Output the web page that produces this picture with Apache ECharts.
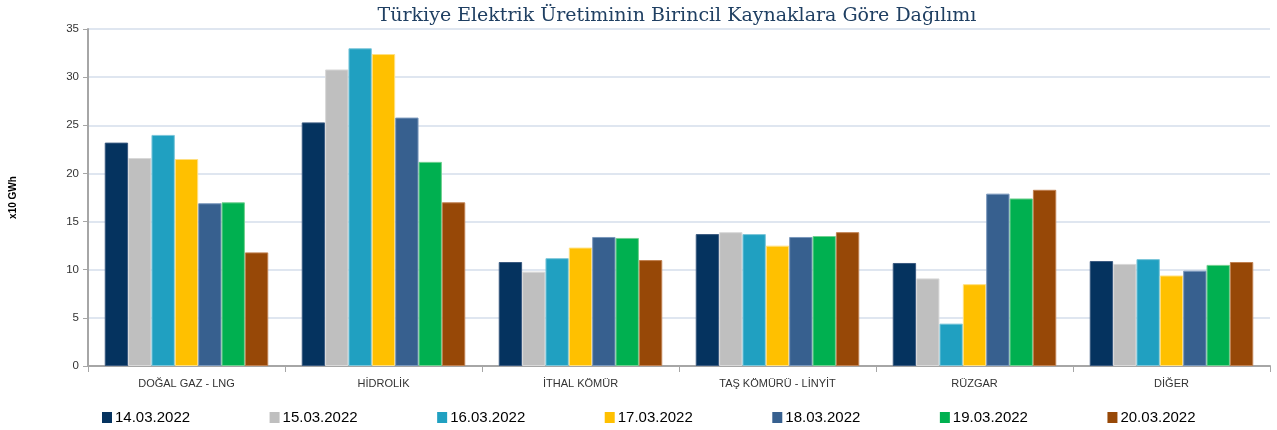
<!DOCTYPE html>
<html><head><meta charset="utf-8">
<script src="https://cdn.jsdelivr.net/npm/echarts@6/dist/echarts.min.js"></script>
<style>html,body{margin:0;padding:0;background:#fff}#c{width:1277px;height:430px}</style>
</head><body><div id="c"></div>
<script>
const categories = ['DOĞAL GAZ - LNG','HİDROLİK','İTHAL KÖMÜR','TAŞ KÖMÜRÜ - LİNYİT','RÜZGAR','DİĞER'];
const seriesNames = ['14.03.2022','15.03.2022','16.03.2022','17.03.2022','18.03.2022','19.03.2022','20.03.2022'];
const s14 = [23.2, 25.3, 10.8, 13.7, 10.7, 10.9];
const s15 = [21.6, 30.8, 9.8, 13.9, 9.1, 10.6];
const s16 = [24.0, 33.0, 11.2, 13.7, 4.4, 11.1];
const s17 = [21.5, 32.4, 12.3, 12.5, 8.5, 9.4];
const s18 = [16.9, 25.8, 13.4, 13.4, 17.9, 9.9];
const s19 = [17.0, 21.2, 13.3, 13.5, 17.4, 10.5];
const s20 = [11.8, 17.0, 11.0, 13.9, 18.3, 10.8];
const yTicks = [0,5,10,15,20,25,30,35];
const colors = ['#05335F','#BFBFBF','#20A0C1','#FFC000','#37608F','#00B050','#974807'];
const borders = ['#3A5A80','#D9D9D9','#7CC6DA','#FFE080','#7A98BC','#70D090','#C08050'];
const allData = [s14,s15,s16,s17,s18,s19,s20];
const chart = echarts.init(document.getElementById('c'));
chart.setOption({
  animation:false,
  title:{text:'Türkiye Elektrik Üretiminin Birincil Kaynaklara Göre Dağılımı',left:672,textAlign:'center',top:2,
    textStyle:{fontFamily:'DejaVu Serif',fontWeight:'normal',fontSize:19,color:'#1F3F62'}},
  grid:{left:86,right:7,top:29,bottom:64},
  legend:{top:405,left:97,width:1180,itemGap:79.5,itemWidth:10,itemHeight:11,icon:'rect',
    itemStyle:{borderWidth:0},
    textStyle:{fontFamily:'Liberation Sans',fontSize:15,color:'#000',padding:[0,0,0,-2]},
    data:seriesNames},
  xAxis:{type:'category',data:categories,
    axisLine:{lineStyle:{color:'#A6A6A6',width:2}},
    axisTick:{show:true,length:6,lineStyle:{color:'#A6A6A6',width:1}},
    axisLabel:{fontFamily:'Liberation Sans',fontSize:11,color:'#333',margin:12}},
  yAxis:{type:'value',min:0,max:35,interval:5,name:'x10 GWh',nameLocation:'middle',nameGap:70,nameRotate:90,
    nameTextStyle:{fontFamily:'Liberation Sans',fontSize:10,fontWeight:'bold',color:'#000'},
    axisLine:{show:true,lineStyle:{color:'#A6A6A6',width:2}},
    axisTick:{show:true,length:5,inside:false,lineStyle:{color:'#A6A6A6'}},
    axisLabel:{fontFamily:'Liberation Sans',fontSize:11.5,color:'#333',margin:9,
      formatter:v=>yTicks.includes(v)?String(v):''},
    splitLine:{lineStyle:{color:'#D5DEEB',width:1.5}}},
  series:allData.map((d,i)=>({name:seriesNames[i],type:'bar',data:d,barGap:'0%',barCategoryGap:'17%',
    itemStyle:{color:colors[i],borderColor:borders[i],borderWidth:1}}))
});
</script></body></html>
